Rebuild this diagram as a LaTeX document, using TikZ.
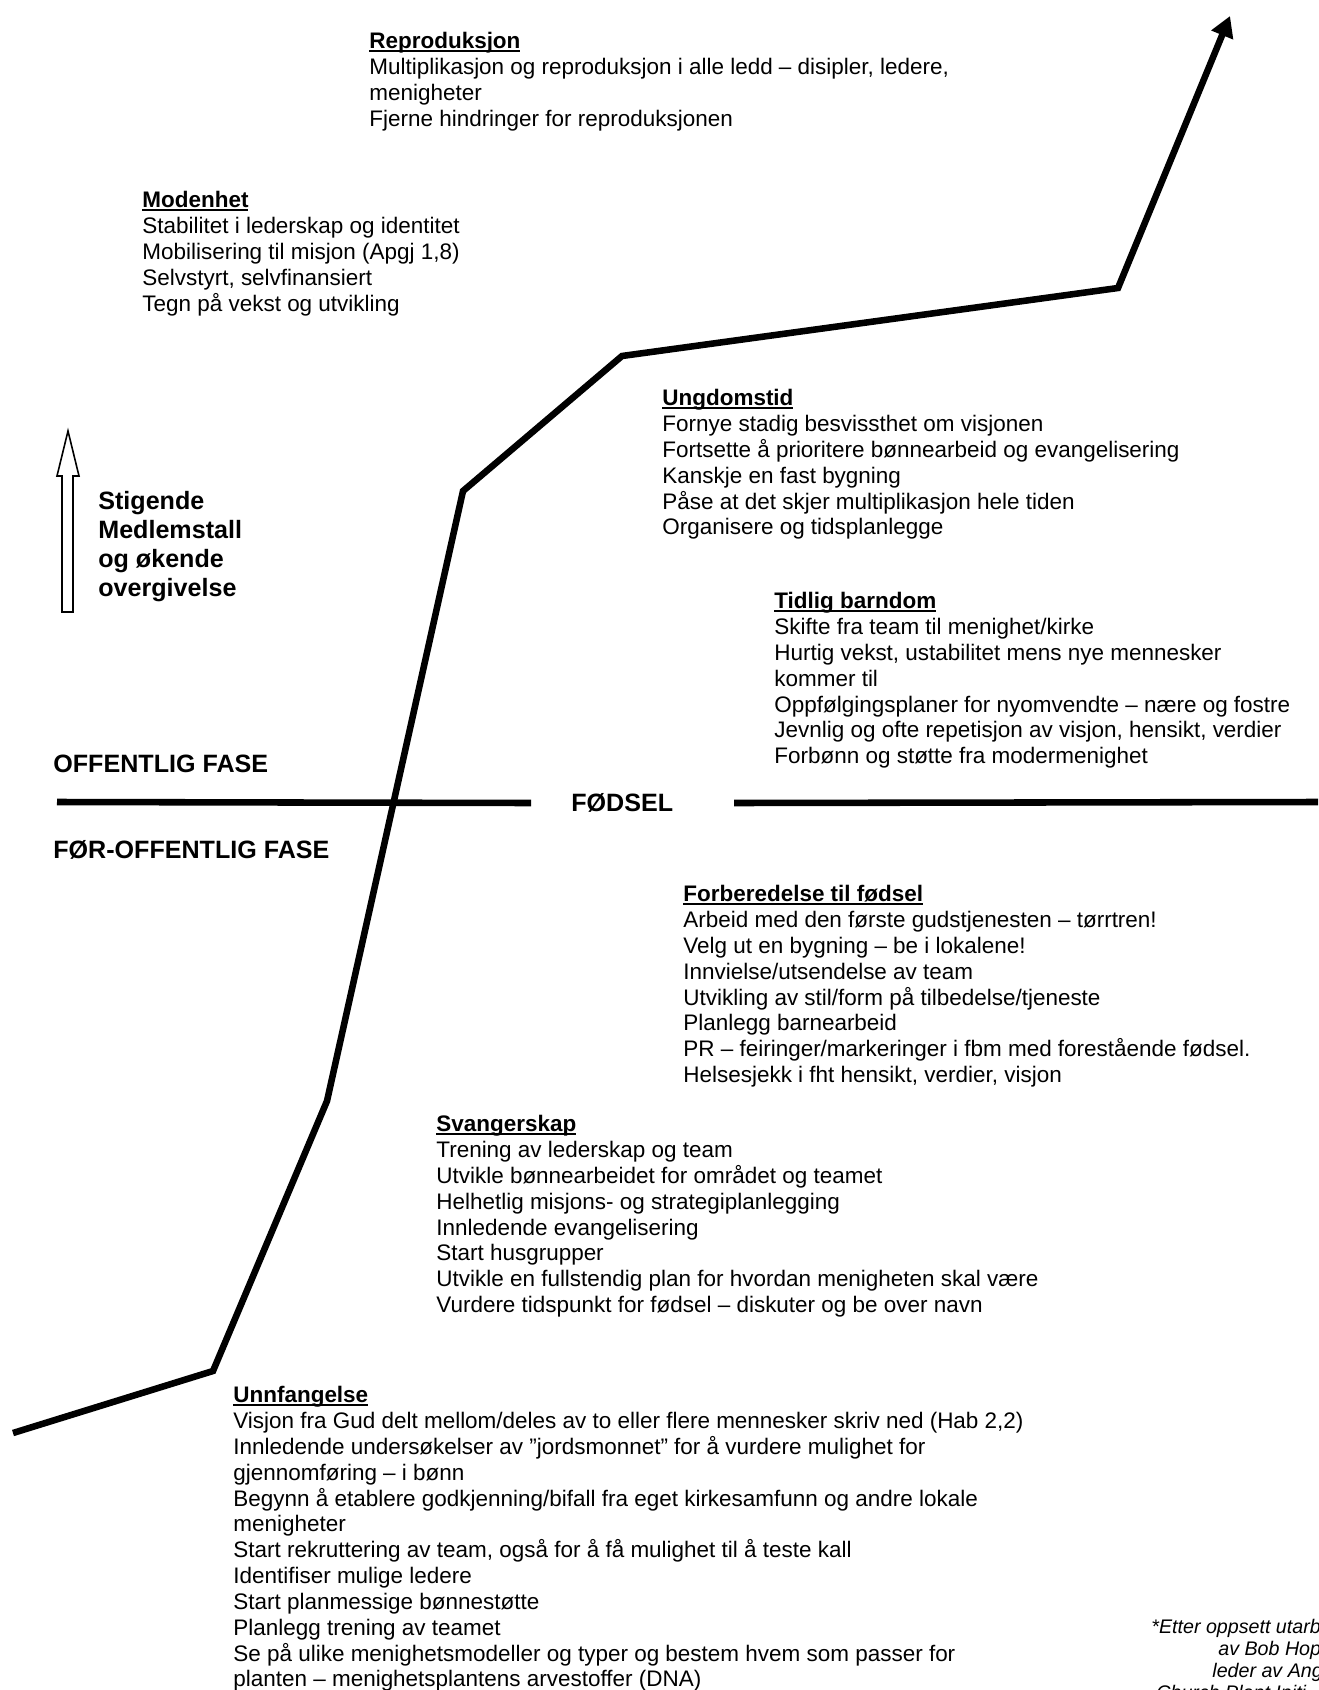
\documentclass[tikz,border=0pt]{standalone}
\usepackage{fontspec}
\setmainfont{Liberation Sans}
\usetikzlibrary{arrows.meta}
\newlength\hdwd
\newcommand\hdr[1]{\settowidth\hdwd{\bfseries #1}\rlap{\rule[-1.6pt]{\hdwd}{0.8pt}}{\bfseries #1}}
\tikzset{
  stage/.style={anchor=north west, inner sep=0pt, align=left, font=\fontsize{12}{13.8}\selectfont},
  fase/.style={anchor=north west, inner sep=0pt, align=left, font=\fontsize{13.4}{15.5}\selectfont\bfseries},
  kilde/.style={anchor=base west, inner sep=0pt, font=\fontsize{10.5}{11.5}\selectfont\itshape},
  growth/.style={line width=3.5pt, line join=miter},
}

\begin{document}
\begin{tikzpicture}[x=0.534pt,y=-0.534pt]
    \clip (0,0) rectangle (1318,1690);
    \fill[white] (0,0) rectangle (1318,1690);
    \coordinate (c0) at (13,1433);
    \coordinate (c1) at (213,1371);
    \coordinate (c2) at (327,1101);
    \coordinate (c3) at (463,491);
    \coordinate (c4) at (622,356);
    \coordinate (c5) at (1118,288);
    \coordinate (c6) at (1230,16);
    \draw[growth, -{Triangle[length=11pt,width=12pt]}] (c0) -- (c1) -- (c2) -- (c3) -- (c4) -- (c5) -- (c6);

    \node[fase, anchor=west] (birth) at (571,803) {FØDSEL};
    \coordinate (lineL) at (57,802);
    \coordinate (lineR) at (1318,802);
    \draw[growth] (lineL) -- (birth.west -| 531,0);
    \draw[growth] (birth.east -| 734,0) -- (lineR);
    \node[fase] (public) at (53,755) {OFFENTLIG FASE};
    \node[fase] (prepublic) at (53,840) {FØR-OFFENTLIG FASE};

    \draw[line width=0.85pt] (62,612) -- (62,476) -- (57,476) -- (68,431) -- (79,476) -- (73,476) -- (73,612) -- cycle;
    \node[fase] (rising) at (98,491) {Stigende\\Medlemstall\\og økende\\overgivelse};

    \node[stage] (repro) at (369,32) {\hdr{Reproduksjon}\\
        Multiplikasjon og reproduksjon i alle ledd – disipler, ledere,\\
        menigheter\\
        Fjerne hindringer for reproduksjonen};
    \node[stage] (mature) at (142,191) {\hdr{Modenhet}\\
        Stabilitet i lederskap og identitet\\
        Mobilisering til misjon (Apgj 1,8)\\
        Selvstyrt, selvfinansiert\\
        Tegn på vekst og utvikling};
    \node[stage] (youth) at (662,389) {\hdr{Ungdomstid}\\
        Fornye stadig besvissthet om visjonen\\
        Fortsette å prioritere bønnearbeid og evangelisering\\
        Kanskje en fast bygning\\
        Påse at det skjer multiplikasjon hele tiden\\
        Organisere og tidsplanlegge};
    \node[stage] (child) at (774,592) {\hdr{Tidlig barndom}\\
        Skifte fra team til menighet/kirke\\
        Hurtig vekst, ustabilitet mens nye mennesker\\
        kommer til\\
        Oppfølgingsplaner for nyomvendte – nære og fostre\\
        Jevnlig og ofte repetisjon av visjon, hensikt, verdier\\
        Forbønn og støtte fra modermenighet};
    \node[stage] (prep) at (683,885) {\hdr{Forberedelse til fødsel}\\
        Arbeid med den første gudstjenesten – tørrtren!\\
        Velg ut en bygning – be i lokalene!\\
        Innvielse/utsendelse av team\\
        Utvikling av stil/form på tilbedelse/tjeneste\\
        Planlegg barnearbeid\\
        PR – feiringer/markeringer i fbm med forestående fødsel.\\
        Helsesjekk i fht hensikt, verdier, visjon};
    \node[stage] (preg) at (436,1115) {\hdr{Svangerskap}\\
        Trening av lederskap og team\\
        Utvikle bønnearbeidet for området og teamet\\
        Helhetlig misjons- og strategiplanlegging\\
        Innledende evangelisering\\
        Start husgrupper\\
        Utvikle en fullstendig plan for hvordan menigheten skal være\\
        Vurdere tidspunkt for fødsel – diskuter og be over navn};
    \node[stage] (concept) at (233,1386) {\hdr{Unnfangelse}\\
        Visjon fra Gud delt mellom/deles av to eller flere mennesker skriv ned (Hab 2,2)\\
        Innledende undersøkelser av ”jordsmonnet” for å vurdere mulighet for\\
        gjennomføring – i bønn\\
        Begynn å etablere godkjenning/bifall fra eget kirkesamfunn og andre lokale\\
        menigheter\\
        Start rekruttering av team, også for å få mulighet til å teste kall\\
        Identifiser mulige ledere\\
        Start planmessige bønnestøtte\\
        Planlegg trening av teamet\\
        Se på ulike menighetsmodeller og typer og bestem hvem som passer for\\
        planten – menighetsplantens arvestoffer (DNA)};

    \node[kilde] (src1) at (1151,1633) {*Etter oppsett utarb};
    \node[kilde] (src2) at (1218,1655) {av Bob Hop};
    \node[kilde] (src3) at (1212,1677) {leder av Ang};
    \node[kilde] (src4) at (1156,1699) {Church Plant Initi};
\end{tikzpicture}
\end{document}
